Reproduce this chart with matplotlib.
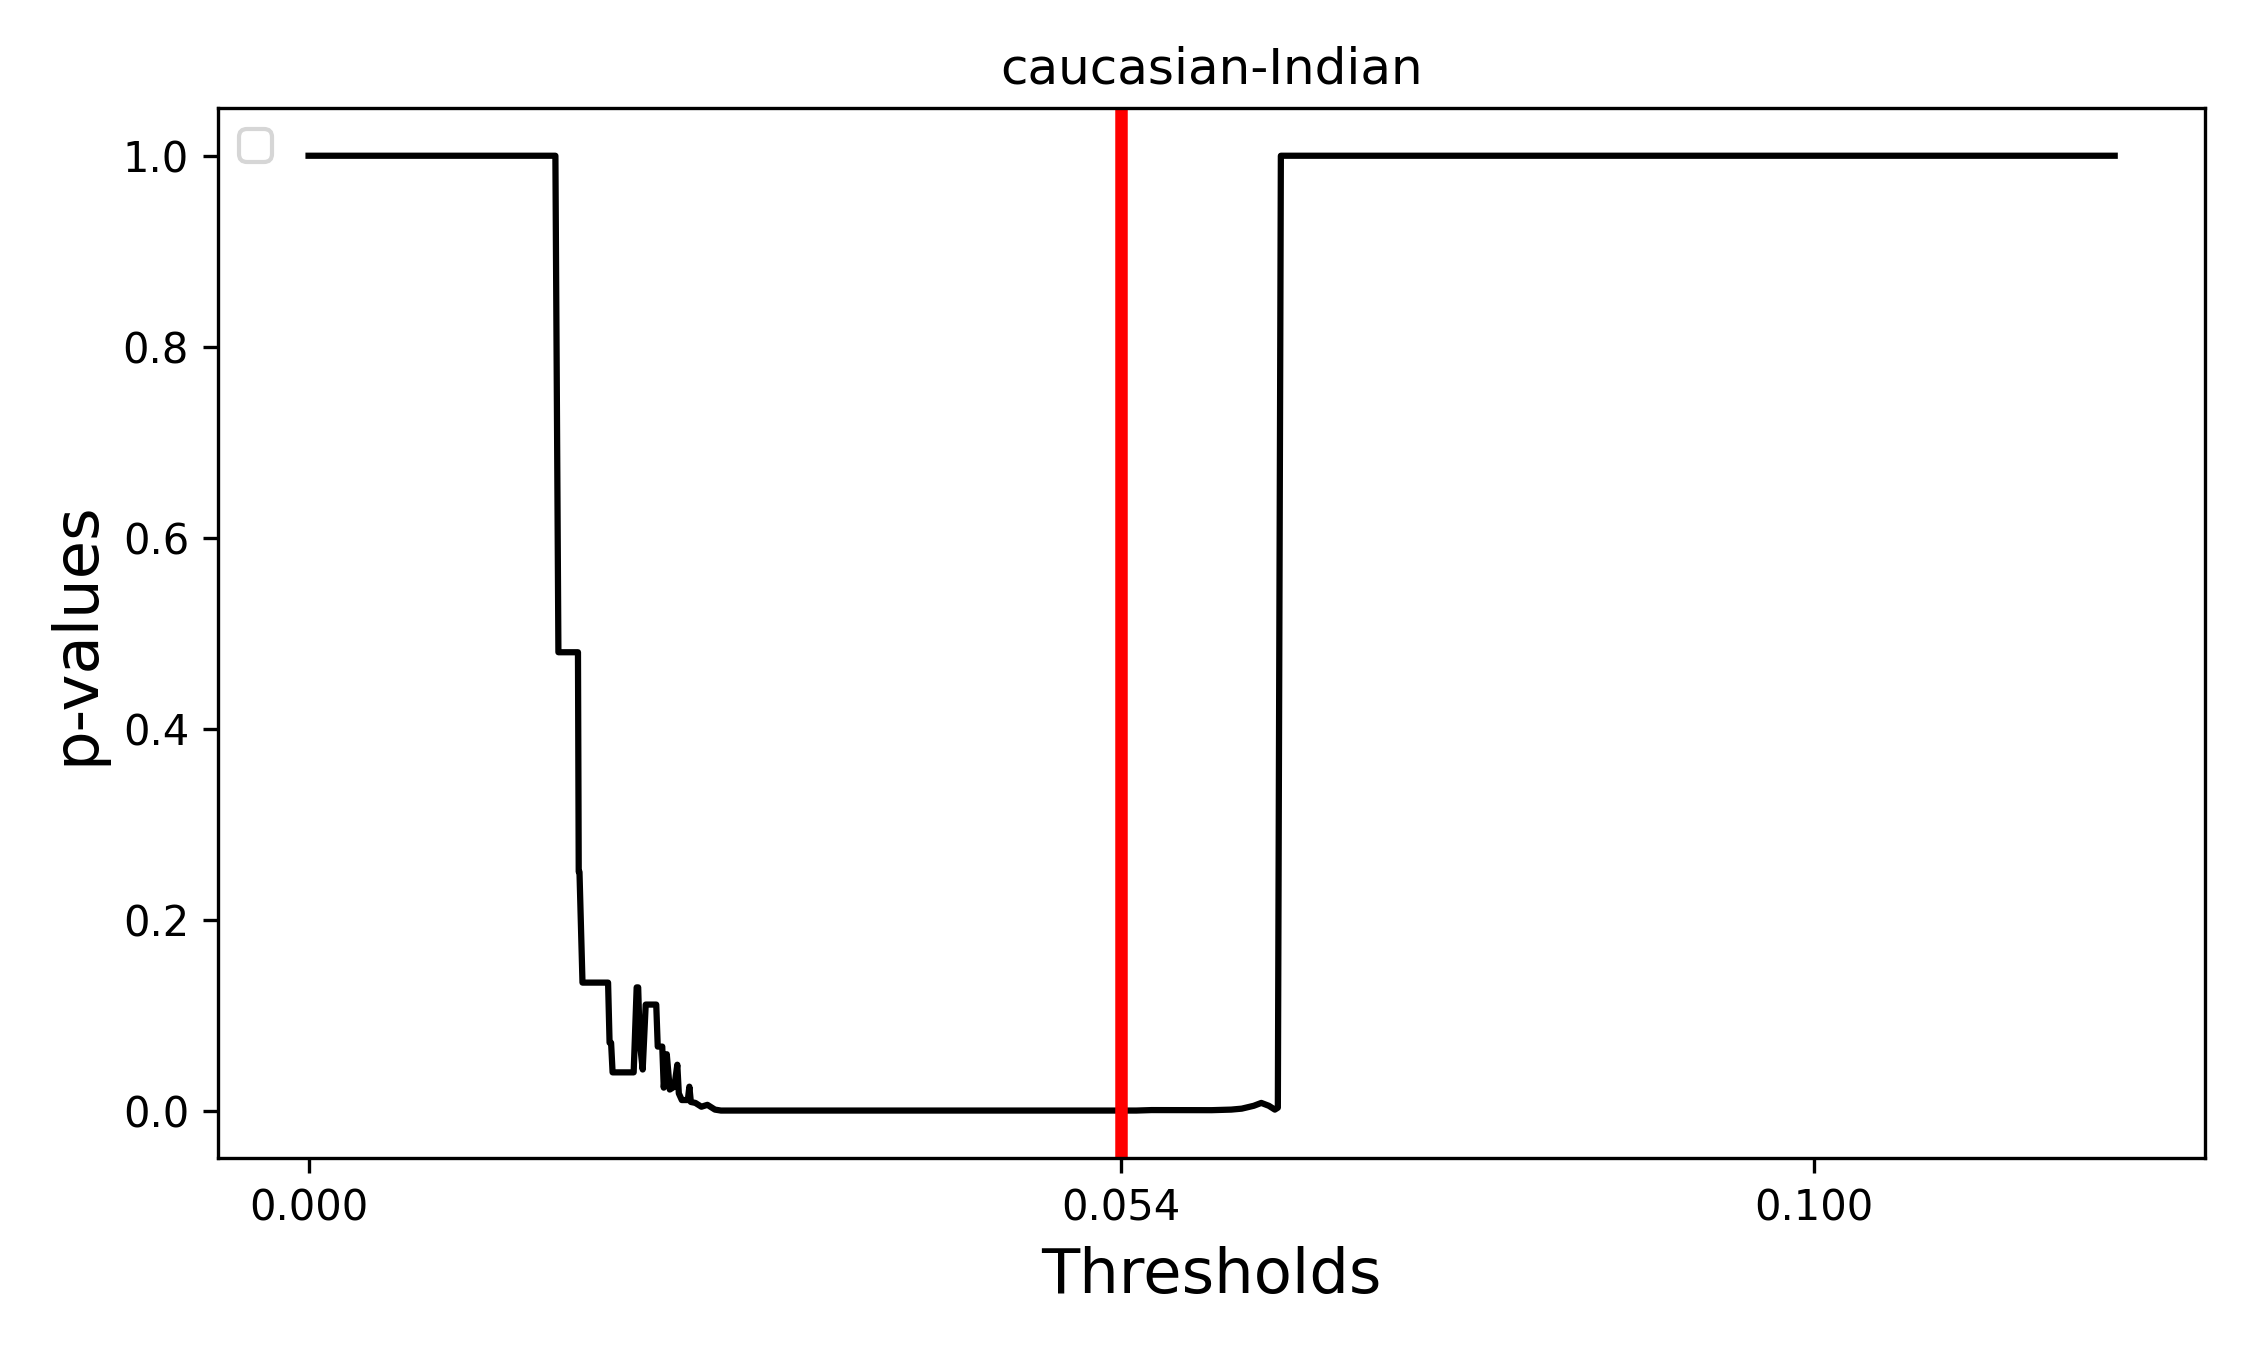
import matplotlib
matplotlib.use("Agg")
import matplotlib.pyplot as plt

# threshold grid and the p-values
thresholds = [0.0, 0.0164, 0.0166, 0.0179, 0.01795, 0.0180, 0.0182, 0.0199,
              0.0200, 0.0201, 0.0202, 0.0216, 0.0218, 0.0219, 0.0220, 0.0222,
              0.0224, 0.0231, 0.0232, 0.0235, 0.0236, 0.0238, 0.0240, 0.0243,
              0.0245, 0.0246, 0.0248, 0.0252, 0.0253, 0.0254, 0.0257, 0.0261,
              0.0265, 0.0270, 0.0274, 0.0550, 0.0560, 0.0600, 0.0613, 0.0620,
              0.0628, 0.0633, 0.0638, 0.0642, 0.0644, 0.0646, 0.12]
pvalues = [1.0, 1.0, 0.48, 0.48, 0.25, 0.25, 0.134, 0.134,
           0.071, 0.071, 0.040, 0.040, 0.129, 0.129, 0.073, 0.043,
           0.111, 0.111, 0.067, 0.067, 0.024, 0.059, 0.022, 0.025,
           0.048, 0.018, 0.011, 0.011, 0.025, 0.009, 0.008, 0.004,
           0.006, 0.001, 0.0, 0.0, 0.0005, 0.0004, 0.001, 0.002,
           0.005, 0.008, 0.005, 0.001, 0.003, 1.0, 1.0]
best_threshold = 0.054
xtick_vals = [0.0, 0.054, 0.1]
xtick_labels = ["0.000", "0.054", "0.100"]

fig, ax = plt.subplots(figsize=(7.5, 4.5), dpi=300)
fig.subplots_adjust(left=0.097, right=0.98, top=0.92, bottom=0.142)

ax.plot(thresholds, pvalues, color="black", linewidth=1.5)
ax.axvline(best_threshold, color="red", linewidth=3)

ax.set_xticks(xtick_vals)
ax.set_xticklabels(xtick_labels)
ax.tick_params(labelsize=10)
ax.set_title("caucasian-Indian", fontsize=12)
ax.set_xlabel("Thresholds", fontsize=15)
ax.set_ylabel("p-values", fontsize=15)
ax.legend(loc="upper left")

fig.savefig("out.png", dpi=300)
